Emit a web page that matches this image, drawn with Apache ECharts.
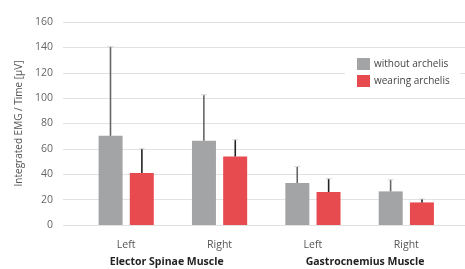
<!DOCTYPE html>
<html>
<head>
<meta charset="utf-8">
<script src="https://cdn.jsdelivr.net/npm/echarts@6/dist/echarts.min.js"></script>
<style>html,body{margin:0;padding:0;background:#fff;}#c{width:465px;height:269px;}</style>
</head>
<body>
<div id="c"></div>
<script>
var categories = ['Left', 'Right', 'Left', 'Right'];
var groupLabels = ['Elector Spinae Muscle', 'Gastrocnemius Muscle'];
var seriesNames = ['without archelis', 'wearing archelis'];
var withoutVals = [70.3, 66.4, 33.1, 26.5];
var wearingVals = [40.9, 54.0, 26.0, 17.8];
var withoutSD = [70.3, 36.2, 13.0, 9.2];
var wearingSD = [19.2, 13.2, 10.5, 2.7];
var yTicks = [0, 20, 40, 60, 80, 100, 120, 140, 160];

var FONT = '"Open Sans", "Noto Sans", sans-serif';
var chart = echarts.init(document.getElementById('c'), null, {renderer: 'canvas'});

function errSeries(vals, sds, offset, color) {
  return {
    type: 'custom', xAxisIndex: 1, yAxisIndex: 1, z: 10, silent: true,
    data: vals.map(function (v, i) { return [i, v, v + sds[i]]; }),
    renderItem: function (params, api) {
      var p0 = api.coord([api.value(0), api.value(1)]);
      var p1 = api.coord([api.value(0), api.value(2)]);
      var x = p0[0] + offset;
      return {
        type: 'group',
        children: [
          {type: 'line', shape: {x1: x, y1: p0[1], x2: x, y2: p1[1]}, style: {stroke: color, lineWidth: 1.6}},
          {type: 'line', shape: {x1: x - 3, y1: p1[1], x2: x + 3, y2: p1[1]}, style: {stroke: '#d8d8d8', lineWidth: 1}}
        ]
      };
    }
  };
}

var option = {
  animation: false,
  backgroundColor: '#fff',
  textStyle: {fontFamily: FONT},
  grid: [
    {left: 63, right: 0, top: 22, height: 203},
    {left: 79.5, right: 12, top: 22, height: 203}
  ],
  legend: {
    orient: 'vertical', left: 345, top: 52,
    padding: [6, 10, 6, 12], itemGap: 5, itemWidth: 13, itemHeight: 12,
    backgroundColor: '#fff', icon: 'rect',
    data: seriesNames,
    textStyle: {fontSize: 10, color: '#444', fontFamily: FONT, padding: [0, 0, 0, -1]}
  },
  xAxis: [
    {gridIndex: 0, type: 'category', data: categories, show: false},
    {gridIndex: 1, type: 'category', data: categories,
     axisLine: {show: false}, axisTick: {show: false},
     axisLabel: {fontSize: 10.5, color: '#555', margin: 15, fontFamily: FONT}}
  ],
  yAxis: [
    {gridIndex: 0, type: 'value', min: 0, max: 160, interval: 20,
     name: 'Integrated EMG / Time [µV]', nameLocation: 'middle', nameGap: 37,
     nameTextStyle: {fontSize: 10, color: '#555', fontFamily: FONT},
     axisLine: {show: false}, axisTick: {show: false},
     axisLabel: {fontSize: 10.5, color: '#666', margin: 10, fontFamily: FONT,
       formatter: function (v) { return yTicks.indexOf(v) >= 0 ? String(v) : ''; }},
     splitLine: {lineStyle: {color: '#e2e2e2', width: 1}}},
    {gridIndex: 1, type: 'value', min: 0, max: 160, interval: 20, show: false, splitLine: {show: false}}
  ],
  series: [
    {name: seriesNames[0], type: 'bar', xAxisIndex: 1, yAxisIndex: 1, data: withoutVals,
     barWidth: 24, barGap: '30%', itemStyle: {color: '#a3a4a6'}},
    {name: seriesNames[1], type: 'bar', xAxisIndex: 1, yAxisIndex: 1, data: wearingVals,
     barWidth: 24, barGap: '30%', itemStyle: {color: '#e84b4f'}},
    errSeries(withoutVals, withoutSD, -15.7, '#666'),
    errSeries(wearingVals, wearingSD, 15.7, '#222')
  ],
  graphic: [
    {type: 'text', x: 166.7, y: 262, style: {text: groupLabels[0], font: 'bold 10.5px ' + FONT, fill: '#222', align: 'center', verticalAlign: 'middle'}},
    {type: 'text', x: 365, y: 262, style: {text: groupLabels[1], font: 'bold 10.5px ' + FONT, fill: '#222', align: 'center', verticalAlign: 'middle'}}
  ]
};
chart.setOption(option);
</script>
</body>
</html>
